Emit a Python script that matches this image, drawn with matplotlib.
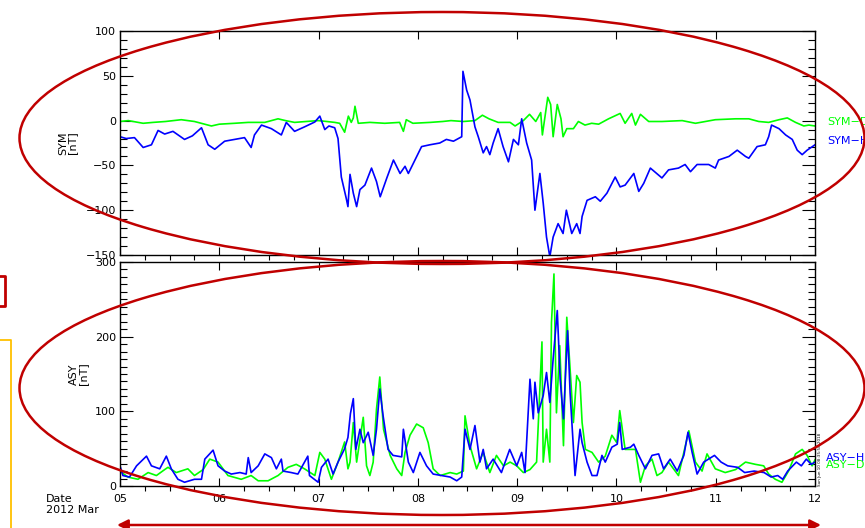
import matplotlib.pyplot as plt
from matplotlib.patches import Ellipse

# hours since 2012-03-05 00:00 UT
symh_t = [0, 1.5, 3.5, 5.6, 7.6, 9.2, 10.8, 12.8, 15.6, 17.5, 19.7, 21.3, 22.9, 25.3, 27.7, 30.1,
          31.7, 32.5, 34.2, 36.6, 39, 40.2, 42.2, 44.6, 47.1, 48.3, 49.5, 50.5, 51.9, 52.7, 53.5,
          54.7, 55.1, 55.6, 56.4, 57.2, 58, 59.2, 60.8, 62, 62.9, 64.5, 66.1, 67.7, 68.9, 69.7,
          71.3, 72.9, 74.9, 77.3, 78.9, 80.6, 82.6, 82.9, 83.8, 84.6, 85.8, 86.6, 87.8, 88.6,
          89.4, 90.2, 91.4, 92.6, 93.9, 95.1, 96.3, 97.1, 98.3, 99.5, 100.3, 101.5, 102.3, 103.1,
          103.9, 104.7, 105.9, 107.1, 107.9, 109.2, 110.4, 111.2, 111.7, 112.9, 114.9, 116.1,
          117.7, 119.7, 120.9, 122.1, 124.2, 125.4, 126.6, 128.2, 131, 132.6, 135, 136.6, 137.9,
          139.5, 142.3, 143.9, 144.7, 147.2, 149.2, 151.2, 152, 154, 156, 156.8, 157.5, 159.3,
          160.9, 162.5, 163.7, 164.9, 166.1, 168]
symh_v = [-18, -20, -19, -30, -27, -11, -15, -12, -21, -17, -8, -27, -32, -23, -21, -19,
          -30, -16, -5, -9, -16, -2, -12, -7, -1.5, 5, -10, -6, -8, -20, -63,
          -87, -96, -60, -81, -96, -77, -72, -53, -68, -85, -64, -44, -59, -51, -59,
          -44, -29, -27, -25, -21, -23, -18, 55, 34, 23, -7, -18, -36, -29,
          -38, -25, -9, -29, -46, -21, -27, 2, -25, -44, -100, -59, -92, -130,
          -152, -130, -115, -126, -100, -126, -115, -126, -107, -89, -85, -90,
          -81, -63, -74, -72, -59, -79, -70, -53, -64, -55, -53, -49, -57,
          -49, -49, -53, -44, -40, -33, -40, -42, -29, -27, -18, -5, -9,
          -16, -21, -33, -38, -33, -27]

symd_t = [0, 2, 5.6, 8, 11, 14.8, 18, 22.1, 24, 27.7, 31, 35, 38.2, 40, 42.2, 45, 47.9, 50,
          51.9, 53.1, 54.3, 55.2, 55.9, 56.4, 56.8, 57.6, 60.4, 64, 67.6, 68.5, 69.2, 70.8, 75,
          78, 80, 83, 85.8, 87.6, 89.2, 91.4, 94.3, 95.5, 97.5, 99, 100.5, 101.7, 102.1, 103.4,
          104.1, 104.7, 105.7, 106.6, 107.1, 108, 109.6, 110.8, 112.4, 114, 115.7, 118.1, 120.9,
          122.1, 123.7, 124.6, 125.8, 127.8, 131, 135.9, 139.1, 143.9, 148.8, 152, 154.4, 156.8,
          159.3, 161.3, 163.3, 165.3, 166.5, 168]
symd_v = [-1, 0, -3, -2, -1, 1, -1, -6, -4, -3, -2, -2, 2, 0, -2, -1, 0, -1,
          -2, -3, -13, 5, -2, 3, 16, -3, -2, -3, -2, -12, 1, -3, -2,
          -1, 0, -1, 0, 6, 2, -2, -2, -6, 0, 7, -1, 9, -16, 26,
          18, -18, 18, 2, -18, -9, -9, -1, -5, -3, -4, 2, 8,
          -3, 8, -5, 7, -1, -1, 0, -3, 1, 2, 2, -1, -2,
          1, 3, -2, -6, -5, -6]

asyh_t = [0, 0.7, 2.3, 4, 6.4, 7.6, 9.6, 11.2, 12.4, 14, 15.6, 18, 19.7, 20.5, 22.5, 23.7, 25.3,
          26.9, 29, 30.5, 31, 31.7, 33.4, 35, 36.6, 37.8, 39, 39.4, 41.4, 43, 45.4, 45.8, 47.9,
          48.7, 50.3, 51.5, 52.7, 54.3, 55.1, 55.7, 56.4, 57, 58, 58.8, 60, 61.2, 62, 62.8, 63.6,
          64.8, 66, 68.1, 68.5, 69.7, 70.9, 72.5, 74.1, 75.7, 77.7, 79.8, 81.4, 82.6, 83.4, 84.6,
          85.8, 87, 87.8, 88.6, 90.2, 92.2, 94.2, 95.9, 97.1, 97.9, 99.1, 99.9, 100.3, 101.1,
          102.3, 103.1, 103.9, 104.7, 105.7, 106.4, 107.2, 108.2, 108.8, 110, 111.2, 111.7,
          112.9, 114.1, 115.3, 116.5, 117.3, 118.9, 120.2, 120.8, 121.4, 123.4, 124.2, 125.4,
          127, 128.6, 130.2, 131.4, 133, 134.7, 136.3, 137.3, 138.3, 139.5, 141.1, 143.7, 145.3,
          146.9, 149.3, 151, 153.3, 155.7, 157.4, 159, 160.2, 161.4, 163.5, 164.7, 165.9, 167.1,
          168]
asyh_v = [27, 14, 12, 27, 40, 27, 23, 40, 23, 9, 5, 9, 9, 36, 48, 27, 20,
          16, 18, 16, 38, 18, 27, 43, 38, 23, 36, 20, 18, 16, 40, 14, 5,
          25, 36, 16, 32, 50, 65, 97, 117, 49, 76, 58, 72, 41, 76, 130, 94,
          49, 41, 39, 76, 32, 18, 45, 27, 16, 14, 12, 7, 12, 76, 49,
          81, 32, 49, 23, 36, 18, 49, 27, 45, 18, 143, 90, 139, 98,
          121, 152, 112, 170, 235, 143, 90, 208, 125, 14, 76, 58,
          32, 14, 14, 41, 32, 52, 56, 85, 49, 52, 56, 41,
          23, 41, 43, 23, 36, 20, 41, 72, 45, 16, 32, 41, 32,
          27, 25, 18, 20, 18, 12, 14, 9, 20, 32, 27, 36, 29,
          32]

asyd_t = [0, 1.9, 4.35, 6.8, 8.8, 10.8, 11.6, 13.6, 16.4, 18, 20.1, 21.7, 23.7, 26.1, 29.3,
          31.7, 33.4, 35.8, 38.2, 40.6, 42.6, 44.6, 47.1, 48.3, 49.5, 51.1, 52.7, 54.3, 55.1,
          55.6, 56.4, 57.2, 58.8, 59.6, 60.4, 61.2, 62, 62.8, 63.7, 65.3, 66.9, 68.1, 68.9, 70.1,
          71.7, 73.3, 74.5, 75.7, 77.4, 79.8, 81.4, 83, 83.4, 84.6, 86.2, 87.8, 89.4, 91, 92.7,
          94.3, 95.9, 97.5, 99.1, 100.7, 102, 102.3, 103.1, 103.9, 104.3, 104.9, 105.5, 106.3,
          107.2, 108, 108.8, 109.6, 110.4, 111.2, 111.7, 112.5, 114.1, 115.7, 117.3, 118.9,
          120.1, 120.8, 122.1, 124.6, 125.8, 127, 128.6, 129.8, 131, 132.6, 135, 137.5, 139.1,
          140.7, 141.9, 143.9, 146.3, 148.8, 151.2, 153.6, 155.6, 156.8, 158.4, 160, 161.6,
          163.3, 164.9, 166.1, 167.3, 168]
asyd_v = [20, 12, 9, 18, 14, 22, 25, 18, 23, 14, 22, 36, 32, 14, 9,
          14, 7, 7, 14, 25, 29, 23, 14, 45, 36, 9, 32, 59, 23,
          32, 85, 32, 92, 27, 14, 32, 103, 146, 76, 41, 23, 14, 45, 68,
          83, 78, 58, 23, 14, 18, 16, 20, 94, 54, 23, 45, 18, 41, 27,
          32, 27, 18, 22, 32, 193, 32, 76, 32, 219, 284, 98, 188,
          54, 226, 157, 85, 148, 139, 85, 49, 45, 32, 40, 68,
          58, 101, 49, 49, 5, 27, 36, 14, 18, 32, 14, 74, 32,
          20, 43, 23, 18, 22, 32, 29, 27, 16, 9, 5, 20,
          43, 49, 41, 27, 35]

day_labels = ['05', '06', '07', '08', '09', '10', '11', '12']

BLUE = '#0000ff'
GREEN = '#00ff00'
RED = '#c00000'
FS = 8
LW = 1.2

fig = plt.figure(figsize=(8.65, 5.28), dpi=100)
W, H = 865, 528

def panel(top_px, bot_px):
    return fig.add_axes([120 / W, 1 - bot_px / H, 695 / W, (bot_px - top_px) / H])

def style(ax):
    ax.set_xlim(0, 168)
    ax.set_xticks(range(0, 169, 24))
    ax.set_xticks(range(0, 169, 6), minor=True)
    ax.tick_params(direction='in', top=True, right=True, labelsize=FS, width=0.8)
    ax.tick_params(axis='x', which='major', length=6, pad=6)
    ax.tick_params(axis='x', which='minor', length=3.5, width=0.8)
    ax.tick_params(axis='y', which='major', length=9.5, pad=3)
    ax.tick_params(axis='y', which='minor', length=4.8, width=0.8, direction='in', right=True)
    for s in ax.spines.values():
        s.set_linewidth(1.0)

# SYM panel
ax1 = panel(31, 255)
ax1.plot(symd_t, symd_v, color=GREEN, lw=LW)
ax1.plot(symh_t, symh_v, color=BLUE, lw=LW)
style(ax1)
ax1.set_ylim(-150, 100)
ax1.set_yticks(range(-150, 101, 50))
ax1.set_yticks(range(-150, 101, 10), minor=True)
ax1.set_xticklabels([])
ax1.set_yticklabels(['\u2212150', '\u2212100', '\u221250', '0', '50', '100'])
ax1.set_ylabel('SYM\n[nT]', fontsize=FS, linespacing=0.9, labelpad=6)
ax1.text(1.017, 0.595, 'SYM\u2212D', color=GREEN, fontsize=FS, transform=ax1.transAxes, va='center')
ax1.text(1.017, 0.51, 'SYM\u2212H', color=BLUE, fontsize=FS, transform=ax1.transAxes, va='center')

# ASY panel
ax2 = panel(262, 486)
ax2.plot(asyd_t, asyd_v, color=GREEN, lw=LW)
ax2.plot(asyh_t, asyh_v, color=BLUE, lw=LW)
style(ax2)
ax2.set_ylim(0, 300)
ax2.set_yticks(range(0, 301, 100))
ax2.set_yticks(range(0, 301, 10), minor=True)
ax2.set_xticklabels(day_labels)
ax2.set_ylabel('ASY\n[nT]', fontsize=FS, linespacing=0.9, labelpad=5)
ax2.text(1.015, 0.125, 'ASY\u2212H', color=BLUE, fontsize=FS, transform=ax2.transAxes, va='center')
ax2.text(1.015, 0.095, 'ASY\u2212D', color=GREEN, fontsize=FS, transform=ax2.transAxes, va='center')
ax2.text(1.004, 0.0, 'Sun Jun 10 08:35:50 2018', fontsize=3, rotation=90,
         transform=ax2.transAxes, va='bottom', ha='left')

fig.text(46 / W, 1 - 499 / H, 'Date', fontsize=FS, va='center')
fig.text(46 / W, 1 - 510 / H, '2012 Mar', fontsize=FS, va='center')

# red/yellow markup drawn over the plot, in pixel units
ov = fig.add_axes([0, 0, 1, 1])
ov.set_xlim(0, W)
ov.set_ylim(H, 0)
ov.axis('off')
ov.set_zorder(10)
ov.patch.set_alpha(0)
ov.add_patch(Ellipse((442, 138), 845, 252, fill=False, ec=RED, lw=1.8))
ov.add_patch(Ellipse((442, 388), 845, 254, fill=False, ec=RED, lw=1.8))
ov.plot([0, 5, 5, 0], [276, 276, 306, 306], color=RED, lw=2)
ov.plot([0, 11, 11], [340, 340, 530], color='#ffc000', lw=1.3)
ov.annotate('', xy=(821, 525), xytext=(117, 525),
            arrowprops=dict(arrowstyle='<|-|>', color=RED, lw=1.8, mutation_scale=16,
                            shrinkA=0, shrinkB=0))

fig.savefig('out.png', dpi=100)
